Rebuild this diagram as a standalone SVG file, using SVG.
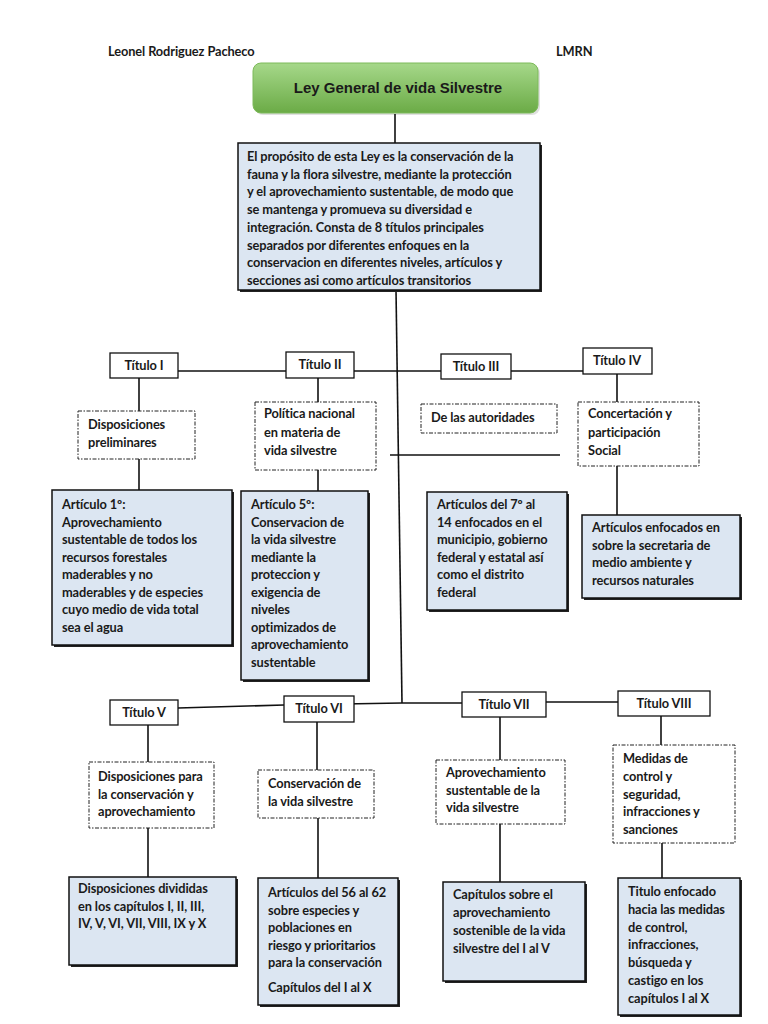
<svg xmlns="http://www.w3.org/2000/svg" width="768" height="1024" viewBox="0 0 768 1024">
<defs>
<linearGradient id="g" x1="0" y1="0" x2="0" y2="1">
<stop offset="0" stop-color="#a6d88a"/>
<stop offset="1" stop-color="#6bab46"/>
</linearGradient>
<style>
text{font-family:Lato,"Liberation Sans",sans-serif;font-weight:bold;font-size:12.8px;fill:#1a1a1a;letter-spacing:-0.1px}
.c{text-anchor:middle}
.t rect{fill:#fff;stroke:#111;stroke-width:1.3}
.d rect{fill:#fff;stroke:#222;stroke-width:1;stroke-dasharray:4 1.5 1.5 1.5}
.s .sh{fill:#222;stroke:none}
.s .bx{fill:#dce6f2;stroke:#111;stroke-width:1.5}
#conn line,#conn polyline{stroke:#111;stroke-width:1.6;fill:none}
</style>
</defs>
<rect width="768" height="1024" fill="#fff"/>
<g id="header">
<text x="108" y="56">Leonel Rodriguez Pacheco</text>
<text x="556" y="56">LMRN</text>
</g>
<g id="conn">
<line x1="395" y1="114" x2="395" y2="143"/>
<line x1="396" y1="290" x2="402" y2="703"/>
<line x1="178" y1="371" x2="583" y2="371"/>
<line x1="390" y1="455" x2="560" y2="455"/>
<line x1="139" y1="378" x2="139" y2="411"/>
<line x1="139" y1="459" x2="139" y2="490"/>
<line x1="318" y1="378" x2="318" y2="402"/>
<line x1="318" y1="470" x2="318" y2="491"/>
<line x1="617" y1="374" x2="617" y2="402"/>
<line x1="617" y1="466" x2="617" y2="515"/>
<polyline points="178,708 284,705 402,703 462,703 546,702 618,702"/>
<line x1="148" y1="725" x2="148" y2="762"/>
<line x1="148" y1="828" x2="148" y2="877"/>
<line x1="317" y1="722" x2="317" y2="770"/>
<line x1="318" y1="818" x2="318" y2="878"/>
<line x1="500" y1="717" x2="500" y2="760"/>
<line x1="500" y1="824" x2="500" y2="882"/>
<line x1="661" y1="716" x2="661" y2="745"/>
<line x1="662" y1="843" x2="662" y2="878"/>
</g>
<g id="ley">
<rect x="255" y="65" width="285" height="50" rx="8" fill="#000" opacity="0.12"/>
<rect x="253" y="63" width="285" height="50" rx="8" fill="url(#g)" stroke="#7dba5a" stroke-width="1"/>
<text x="398" y="93" class="c" style="font-family:'Liberation Sans',Arial,sans-serif;font-size:15px;letter-spacing:0">Ley General de vida Silvestre</text>
</g>
<g id="proposito" class="s">
<rect class="sh" x="240" y="145" width="302" height="147"/>
<rect class="bx" x="238" y="143" width="302" height="147"/>
<text x="247" y="161">El propósito de esta Ley es la conservación de la<tspan x="247" dy="17.7">fauna y la flora silvestre, mediante la protección</tspan><tspan x="247" dy="17.7">y el aprovechamiento sustentable, de modo que</tspan><tspan x="247" dy="17.7">se mantenga y promueva su diversidad e</tspan><tspan x="247" dy="17.7">integración. Consta de 8 títulos principales</tspan><tspan x="247" dy="17.7">separados por diferentes enfoques en la</tspan><tspan x="247" dy="17.7">conservacion en diferentes niveles, artículos y</tspan><tspan x="247" dy="17.7">secciones asi como artículos transitorios</tspan></text>
</g>
<g id="titulo1" class="t"><rect x="110" y="353" width="68" height="25"/><text x="144" y="370" class="c">Título I</text></g>
<g id="titulo2" class="t"><rect x="286" y="352" width="68" height="26"/><text x="320" y="369" class="c">Título II</text></g>
<g id="titulo3" class="t"><rect x="441" y="354" width="70" height="25"/><text x="476" y="371" class="c">Título III</text></g>
<g id="titulo4" class="t"><rect x="583" y="348" width="69" height="26"/><text x="617" y="365" class="c">Título IV</text></g>
<g id="disp-prelim" class="d"><rect x="78" y="411" width="117" height="48"/><text x="88" y="429">Disposiciones<tspan x="88" dy="18">preliminares</tspan></text></g>
<g id="politica" class="d"><rect x="255" y="402" width="121" height="68"/><text x="264" y="418">Política nacional<tspan x="264" dy="18.5">en materia de</tspan><tspan x="264" dy="18.5">vida silvestre</tspan></text></g>
<g id="autoridades" class="d"><rect x="421" y="404" width="136" height="29"/><text x="431" y="422">De las autoridades</text></g>
<g id="concertacion" class="d"><rect x="578" y="402" width="121" height="64"/><text x="588" y="418">Concertación y<tspan x="588" dy="18.5">participación</tspan><tspan x="588" dy="18.5">Social</tspan></text></g>
<g id="art1" class="s">
<rect class="sh" x="54" y="492" width="180" height="155"/>
<rect class="bx" x="52" y="490" width="180" height="155"/>
<text x="62" y="509">Artículo 1º:<tspan x="62" dy="17.5">Aprovechamiento</tspan><tspan x="62" dy="17.5">sustentable de todos los</tspan><tspan x="62" dy="17.5">recursos forestales</tspan><tspan x="62" dy="17.5">maderables y no</tspan><tspan x="62" dy="17.5">maderables y de especies</tspan><tspan x="62" dy="17.5">cuyo medio de vida total</tspan><tspan x="62" dy="17.5">sea el agua</tspan></text>
</g>
<g id="art5" class="s">
<rect class="sh" x="243" y="493" width="127" height="189"/>
<rect class="bx" x="241" y="491" width="127" height="189"/>
<text x="251" y="509">Artículo 5º:<tspan x="251" dy="17.5">Conservacion de</tspan><tspan x="251" dy="17.5">la vida silvestre</tspan><tspan x="251" dy="17.5">mediante la</tspan><tspan x="251" dy="17.5">proteccion y</tspan><tspan x="251" dy="17.5">exigencia de</tspan><tspan x="251" dy="17.5">niveles</tspan><tspan x="251" dy="17.5">optimizados de</tspan><tspan x="251" dy="17.5">aprovechamiento</tspan><tspan x="251" dy="17.5">sustentable</tspan></text>
</g>
<g id="art7" class="s">
<rect class="sh" x="429" y="494" width="140" height="118"/>
<rect class="bx" x="427" y="492" width="140" height="118"/>
<text x="437" y="509">Artículos del 7º al<tspan x="437" dy="17.5">14 enfocados en el</tspan><tspan x="437" dy="17.5">municipio, gobierno</tspan><tspan x="437" dy="17.5">federal y estatal así</tspan><tspan x="437" dy="17.5">como el distrito</tspan><tspan x="437" dy="17.5">federal</tspan></text>
</g>
<g id="art-enf" class="s">
<rect class="sh" x="584" y="517" width="158" height="83"/>
<rect class="bx" x="582" y="515" width="158" height="83"/>
<text x="592" y="532">Artículos enfocados en<tspan x="592" dy="17.7">sobre la secretaria de</tspan><tspan x="592" dy="17.7">medio ambiente y</tspan><tspan x="592" dy="17.7">recursos naturales</tspan></text>
</g>
<g id="titulo5" class="t"><rect x="110" y="700" width="68" height="25"/><text x="144" y="717" class="c">Título V</text></g>
<g id="titulo6" class="t"><rect x="284" y="696" width="70" height="26"/><text x="319" y="713" class="c">Título VI</text></g>
<g id="titulo7" class="t"><rect x="462" y="692" width="84" height="25"/><text x="504" y="709" class="c">Título VII</text></g>
<g id="titulo8" class="t"><rect x="618" y="691" width="92" height="25"/><text x="664" y="708" class="c">Título VIII</text></g>
<g id="disp-cons" class="d"><rect x="89" y="762" width="125" height="66"/><text x="98" y="781">Disposiciones para<tspan x="98" dy="17.7">la conservación y</tspan><tspan x="98" dy="17.7">aprovechamiento</tspan></text></g>
<g id="cons-vida" class="d"><rect x="258" y="770" width="116" height="48"/><text x="268" y="788">Conservación de<tspan x="268" dy="18">la vida silvestre</tspan></text></g>
<g id="aprov" class="d"><rect x="436" y="760" width="129" height="64"/><text x="446" y="777">Aprovechamiento<tspan x="446" dy="17.7">sustentable de la</tspan><tspan x="446" dy="17.7">vida silvestre</tspan></text></g>
<g id="medidas" class="d"><rect x="613" y="745" width="122" height="98"/><text x="623" y="763">Medidas de<tspan x="623" dy="17.8">control y</tspan><tspan x="623" dy="17.8">seguridad,</tspan><tspan x="623" dy="17.8">infracciones y</tspan><tspan x="623" dy="17.8">sanciones</tspan></text></g>
<g id="disp-div" class="s">
<rect class="sh" x="71" y="879" width="167" height="88"/>
<rect class="bx" x="69" y="877" width="167" height="88"/>
<text x="78" y="893">Disposiciones divididas<tspan x="78" dy="17.7">en los capítulos I, II, III,</tspan><tspan x="78" dy="17.7">IV, V, VI, VII, VIII, IX y X</tspan></text>
</g>
<g id="art56" class="s">
<rect class="sh" x="260" y="880" width="140" height="127"/>
<rect class="bx" x="258" y="878" width="140" height="127"/>
<text x="268" y="897">Artículos del 56 al 62<tspan x="268" dy="17.6">sobre especies y</tspan><tspan x="268" dy="17.6">poblaciones en</tspan><tspan x="268" dy="17.6">riesgo y prioritarios</tspan><tspan x="268" dy="17.6">para la conservación</tspan><tspan x="268" dy="25">Capítulos del I al X</tspan></text>
</g>
<g id="cap-sobre" class="s">
<rect class="sh" x="445" y="884" width="142" height="99"/>
<rect class="bx" x="443" y="882" width="142" height="99"/>
<text x="453" y="899">Capítulos sobre el<tspan x="453" dy="18">aprovechamiento</tspan><tspan x="453" dy="18">sostenible de la vida</tspan><tspan x="453" dy="18">silvestre del I al V</tspan></text>
</g>
<g id="titulo-enf" class="s">
<rect class="sh" x="620" y="880" width="122" height="137"/>
<rect class="bx" x="618" y="878" width="122" height="137"/>
<text x="628" y="896">Titulo enfocado<tspan x="628" dy="17.8">hacia las medidas</tspan><tspan x="628" dy="17.8">de control,</tspan><tspan x="628" dy="17.8">infracciones,</tspan><tspan x="628" dy="17.8">búsqueda y</tspan><tspan x="628" dy="17.8">castigo en los</tspan><tspan x="628" dy="17.8">capítulos I al X</tspan></text>
</g>
</svg>
